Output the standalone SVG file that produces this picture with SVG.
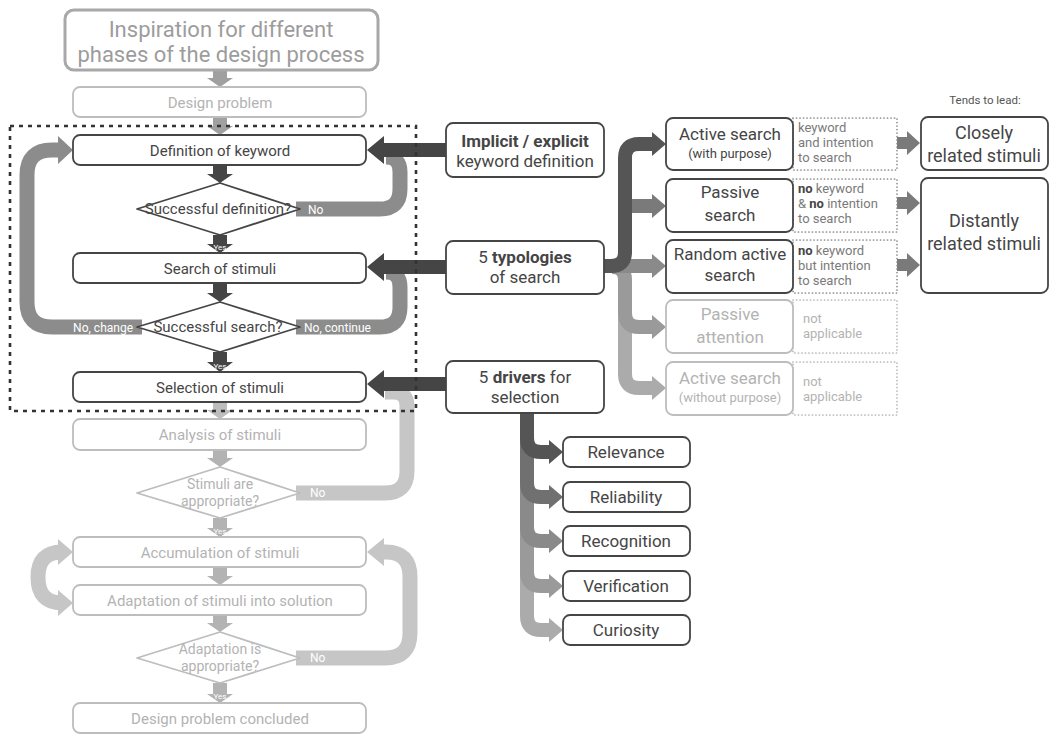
<svg xmlns="http://www.w3.org/2000/svg" width="1052" height="735" viewBox="0 0 1052 735">
<style>
text{font-family:Roboto,"Liberation Sans","DejaVu Sans",sans-serif;text-anchor:middle}
.dk{fill:#454545}
.lt{fill:#b3b3b3}
.md{fill:#7a7a7a}
.wt{fill:#fff;font-size:12px}
.yes{fill:#fff;font-size:8px}
.bd{fill:#fff;stroke:#454545;stroke-width:1.8}
.bl{fill:#fff;stroke:#bdbdbd;stroke-width:1.8}
.dot{fill:none;stroke:#8a8a8a;stroke-width:1.7;stroke-dasharray:0.1 3.4;stroke-linecap:round}
.dotl{fill:none;stroke:#b5b5b5;stroke-width:1.7;stroke-dasharray:0.1 3.4;stroke-linecap:round}
.band{fill:none;stroke-width:15}
.s14{font-size:15px}
.s13{font-size:14px}
.s16{font-size:17px}
.s12{font-size:13px}
</style>
<g id="connectors">
  <path d="M213 70 H227 V78 H233 L220 87 L207 78 H213 Z" fill="#a0a0a0"/>
  <path d="M213 117 H227 V126 H233 L220 135 L207 126 H213 Z" fill="#a0a0a0"/>
  <path class="band" stroke="#8c8c8c" d="M296 209 H380 Q400 209 400 189 V172 Q400 157 386 157"/>
  <path class="band" stroke="#8c8c8c" d="M296 327 H380 Q400 327 400 307 V287 Q400 272 386 272"/>
  <path class="band" stroke="#8c8c8c" d="M142 327 H52 Q27 327 27 302 V175 Q27 150 52 150 H60"/>
  <path d="M58 136 L73 150 L58 164 Z" fill="#8c8c8c"/>
  <path d="M213 165 H227 V174 H233 L220 183 L207 174 H213 Z" fill="#454545"/>
  <path d="M213 235 H227 V244 H233 L220 253 L207 244 H213 Z" fill="#454545"/>
  <path d="M213 283 H227 V293 H233 L220 302 L207 293 H213 Z" fill="#454545"/>
  <path d="M213 352 H227 V362 H233 L220 372 L207 362 H213 Z" fill="#454545"/>
  <path class="band" stroke="#c6c6c6" d="M296 493 H385 Q407 493 407 471 V406 Q407 392 393 392 H385"/>
  <path class="band" stroke="#c6c6c6" d="M296 658 H385 Q410 658 410 633 V577 Q410 552 386 552 H382"/>
  <path d="M384 538 L367 552 L384 566 Z" fill="#c6c6c6"/>
  <path class="band" stroke="#c6c6c6" d="M62 552 Q38 552 38 577 Q38 603 62 603"/>
  <path d="M58 539 L73 552 L58 565 Z" fill="#c6c6c6"/>
  <path d="M58 590 L73 603 L58 616 Z" fill="#c6c6c6"/>
  <path d="M213 402 H227 V410 H233 L220 419 L207 410 H213 Z" fill="#bdbdbd"/>
  <path d="M213 450 H227 V458 H233 L220 467 L207 458 H213 Z" fill="#b3b3b3"/>
  <path d="M213 518 H227 V528 H233 L220 537 L207 528 H213 Z" fill="#b3b3b3"/>
  <path d="M213 567 H227 V576 H233 L220 585 L207 576 H213 Z" fill="#b3b3b3"/>
  <path d="M213 615 H227 V623 H233 L220 632 L207 623 H213 Z" fill="#b3b3b3"/>
  <path d="M213 683 H227 V694 H233 L220 703 L207 694 H213 Z" fill="#b3b3b3"/>
  <path d="M446 143 H384 V136 L367 150 L384 164 V157 H446 Z" fill="#454545"/>
  <path d="M446 260 H384 V253 L367 267 L384 281 V274 H446 Z" fill="#454545"/>
  <path d="M446 377 H384 V370 L367 384 L384 398 V391 H446 Z" fill="#454545"/>
  <path class="band" stroke="#ababab" d="M625 280 V374 Q625 388 639 388 H653" style="stroke-width:14"/>
  <path d="M652 376 L666 388 L652 400 Z" fill="#ababab"/>
  <path class="band" stroke="#9a9a9a" d="M612 267 Q625 267 625 280 V313 Q625 327 639 327 H653" style="stroke-width:14"/>
  <path d="M652 315 L666 327 L652 339 Z" fill="#9a9a9a"/>
  <path class="band" stroke="#8a8a8a" d="M604 266 H653" style="stroke-width:14"/>
  <path d="M652 254 L666 266 L652 278 Z" fill="#8a8a8a"/>
  <path class="band" stroke="#7a7a7a" d="M625 206 H653" style="stroke-width:14"/>
  <path d="M652 194 L666 206 L652 218 Z" fill="#7a7a7a"/>
  <path class="band" stroke="#555" d="M604 266 H611 Q625 266 625 252 V158 Q625 144 639 144 H653" style="stroke-width:14"/>
  <path d="M652 132 L666 144 L652 156 Z" fill="#555"/>
  <path d="M897 137 H907 V131 L920 143 L907 155 V149 H897 Z" fill="#7a7a7a"/>
  <path d="M897 197 H907 V191 L920 203 L907 215 V209 H897 Z" fill="#7a7a7a"/>
  <path d="M897 259 H907 V253 L920 265 L907 277 V271 H897 Z" fill="#7a7a7a"/>
  <path class="band" stroke="#ababab" d="M527 420 V616 Q527 630 541 630 H550" style="stroke-width:14"/>
  <path d="M549 618 L563 630 L549 642 Z" fill="#ababab"/>
  <path class="band" stroke="#9a9a9a" d="M527 420 V572 Q527 586 541 586 H550" style="stroke-width:14"/>
  <path d="M549 574 L563 586 L549 598 Z" fill="#9a9a9a"/>
  <path class="band" stroke="#8a8a8a" d="M527 420 V527 Q527 541 541 541 H550" style="stroke-width:14"/>
  <path d="M549 529 L563 541 L549 553 Z" fill="#8a8a8a"/>
  <path class="band" stroke="#707070" d="M527 413 V483 Q527 497 541 497 H550" style="stroke-width:14"/>
  <path d="M549 485 L563 497 L549 509 Z" fill="#707070"/>
  <path class="band" stroke="#555" d="M527 413 V438 Q527 452 541 452 H550" style="stroke-width:14"/>
  <path d="M549 440 L563 452 L549 464 Z" fill="#555"/>
</g>
<rect id="phase-frame" x="10" y="126" width="406" height="285" fill="none" stroke="#333" stroke-width="2.6" stroke-dasharray="4 5"/>
<g id="n-inspiration">
  <rect x="65" y="10" width="313" height="60" rx="9" fill="#fff" stroke="#a8a8a8" stroke-width="3"/>
  <text x="221" y="37" fill="#9c9c9c" font-size="22">Inspiration for different</text>
  <text x="221" y="62" fill="#9c9c9c" font-size="22">phases of the design process</text>
</g>
<g id="n-design-problem">
  <rect class="bl" x="73" y="87" width="293" height="30" rx="7"/>
  <text class="lt s14" x="220" y="108">Design problem</text>
</g>
<g id="n-definition">
  <rect class="bd" x="73" y="135" width="293" height="30" rx="7"/>
  <text class="dk s14" x="220" y="156">Definition of keyword</text>
</g>
<g id="n-success-def">
  <polygon points="137,209 220,183 300,209 220,235" fill="#fff" stroke="#454545" stroke-width="1.8" stroke-linejoin="round"/>
  <text class="dk s14" x="218" y="214">Successful definition?</text>
  <text class="wt" x="308" y="214" style="text-anchor:start">No</text>
  <text class="yes" x="220" y="250">Yes</text>
</g>
<g id="n-search">
  <rect class="bd" x="73" y="253" width="293" height="30" rx="7"/>
  <text class="dk s14" x="220" y="274">Search of stimuli</text>
</g>
<g id="n-success-search">
  <polygon points="137,327 220,302 300,327 220,352" fill="#fff" stroke="#454545" stroke-width="1.8" stroke-linejoin="round"/>
  <text class="dk s14" x="218" y="332">Successful search?</text>
  <text class="wt" x="133" y="332" style="text-anchor:end">No, change</text>
  <text class="wt" x="304" y="332" style="text-anchor:start">No, continue</text>
  <text class="yes" x="220" y="369">Yes</text>
</g>
<g id="n-selection">
  <rect class="bd" x="73" y="372" width="293" height="30" rx="7"/>
  <text class="dk s14" x="220" y="393">Selection of stimuli</text>
</g>
<g id="n-analysis">
  <rect class="bl" x="73" y="419" width="293" height="31" rx="7"/>
  <text class="lt s14" x="220" y="440">Analysis of stimuli</text>
</g>
<g id="n-appropriate">
  <polygon points="137,493 220,467 300,493 220,518" fill="#fff" stroke="#bdbdbd" stroke-width="1.8" stroke-linejoin="round"/>
  <text class="lt s13" x="220" y="489">Stimuli are</text>
  <text class="lt s13" x="220" y="506">appropriate?</text>
  <text class="wt" x="310" y="497" style="text-anchor:start">No</text>
  <text class="yes" x="220" y="534">Yes</text>
</g>
<g id="n-accumulation">
  <rect class="bl" x="73" y="537" width="293" height="30" rx="7"/>
  <text class="lt s14" x="220" y="558">Accumulation of stimuli</text>
</g>
<g id="n-adaptation">
  <rect class="bl" x="73" y="585" width="293" height="30" rx="7"/>
  <text class="lt s14" x="220" y="606">Adaptation of stimuli into solution</text>
</g>
<g id="n-adapt-ok">
  <polygon points="137,658 220,632 300,658 220,683" fill="#fff" stroke="#bdbdbd" stroke-width="1.8" stroke-linejoin="round"/>
  <text class="lt s13" x="220" y="654">Adaptation is</text>
  <text class="lt s13" x="220" y="671">appropriate?</text>
  <text class="wt" x="310" y="662" style="text-anchor:start">No</text>
  <text class="yes" x="220" y="699">Yes</text>
</g>
<g id="n-concluded">
  <rect class="bl" x="73" y="703" width="293" height="30" rx="7"/>
  <text class="lt s14" x="220" y="724">Design problem concluded</text>
</g>
<g id="n-implicit">
  <rect class="bd" x="446" y="123" width="158" height="54" rx="7"/>
  <text class="dk s16" x="525" y="147" font-weight="bold">Implicit / explicit</text>
  <text class="dk s16" x="525" y="167">keyword definition</text>
</g>
<g id="n-typologies">
  <rect class="bd" x="446" y="241" width="158" height="53" rx="7"/>
  <text class="dk s16" x="525" y="263">5 <tspan font-weight="bold">typologies</tspan></text>
  <text class="dk s16" x="525" y="283">of search</text>
</g>
<g id="n-drivers">
  <rect class="bd" x="446" y="361" width="158" height="52" rx="7"/>
  <text class="dk s16" x="525" y="383">5 <tspan font-weight="bold">drivers</tspan> for</text>
  <text class="dk s16" x="525" y="403">selection</text>
</g>
<g id="n-active">
  <rect class="dot" x="793" y="118" width="104" height="52"/>
  <rect class="bd" x="666" y="118" width="127" height="52" rx="7"/>
  <text class="dk s16" x="730" y="140">Active search</text>
  <text class="dk s12" x="730" y="158">(with purpose)</text>
  <text class="md s12" x="798" y="132" style="text-anchor:start">keyword</text>
  <text class="md s12" x="798" y="147" style="text-anchor:start">and intention</text>
  <text class="md s12" x="798" y="162" style="text-anchor:start">to search</text>
</g>
<g id="n-passive">
  <rect class="dot" x="793" y="179" width="104" height="53"/>
  <rect class="bd" x="666" y="179" width="127" height="53" rx="7"/>
  <text class="dk s16" x="730" y="198">Passive</text>
  <text class="dk s16" x="730" y="221">search</text>
  <text class="md s12" x="798" y="193" style="text-anchor:start"><tspan font-weight="bold" fill="#454545">no</tspan> keyword</text>
  <text class="md s12" x="798" y="208" style="text-anchor:start">&amp; <tspan font-weight="bold" fill="#454545">no</tspan> intention</text>
  <text class="md s12" x="798" y="223" style="text-anchor:start">to search</text>
</g>
<g id="n-random">
  <rect class="dot" x="793" y="240" width="104" height="53"/>
  <rect class="bd" x="666" y="240" width="127" height="53" rx="7"/>
  <text class="dk s16" x="730" y="260">Random active</text>
  <text class="dk s16" x="730" y="281">search</text>
  <text class="md s12" x="798" y="255" style="text-anchor:start"><tspan font-weight="bold" fill="#454545">no</tspan> keyword</text>
  <text class="md s12" x="798" y="270" style="text-anchor:start">but intention</text>
  <text class="md s12" x="798" y="285" style="text-anchor:start">to search</text>
</g>
<g id="n-passive-attention">
  <rect class="dotl" x="793" y="300" width="104" height="53"/>
  <rect class="bl" x="666" y="300" width="127" height="53" rx="7"/>
  <text class="lt s16" x="730" y="320">Passive</text>
  <text class="lt s16" x="730" y="343">attention</text>
  <text class="lt s12" x="803" y="323" style="text-anchor:start">not</text>
  <text class="lt s12" x="803" y="338" style="text-anchor:start">applicable</text>
</g>
<g id="n-active-nopurpose">
  <rect class="dotl" x="793" y="362" width="104" height="53"/>
  <rect class="bl" x="666" y="362" width="127" height="53" rx="7"/>
  <text class="lt s16" x="730" y="384">Active search</text>
  <text class="lt s12" x="730" y="402">(without purpose)</text>
  <text class="lt s12" x="803" y="386" style="text-anchor:start">not</text>
  <text class="lt s12" x="803" y="401" style="text-anchor:start">applicable</text>
</g>
<g id="n-tends">
  <text x="985" y="104" font-size="11.5" fill="#555">Tends to lead:</text>
</g>
<g id="n-closely">
  <rect class="bd" x="921" y="117" width="127" height="53" rx="7"/>
  <text class="dk" x="984" y="139" font-size="18">Closely</text>
  <text class="dk" x="984" y="162" font-size="18">related stimuli</text>
</g>
<g id="n-distantly">
  <rect class="bd" x="921" y="178" width="127" height="115" rx="7"/>
  <text class="dk" x="984" y="227" font-size="18">Distantly</text>
  <text class="dk" x="984" y="250" font-size="18">related stimuli</text>
</g>
<g id="n-relevance">
  <rect class="bd" x="563" y="437" width="127" height="30" rx="7"/>
  <text class="dk s16" x="626" y="458">Relevance</text>
</g>
<g id="n-reliability">
  <rect class="bd" x="563" y="482" width="127" height="30" rx="7"/>
  <text class="dk s16" x="626" y="503">Reliability</text>
</g>
<g id="n-recognition">
  <rect class="bd" x="563" y="526" width="127" height="30" rx="7"/>
  <text class="dk s16" x="626" y="547">Recognition</text>
</g>
<g id="n-verification">
  <rect class="bd" x="563" y="571" width="127" height="30" rx="7"/>
  <text class="dk s16" x="626" y="592">Verification</text>
</g>
<g id="n-curiosity">
  <rect class="bd" x="563" y="615" width="127" height="30" rx="7"/>
  <text class="dk s16" x="626" y="636">Curiosity</text>
</g>
</svg>
